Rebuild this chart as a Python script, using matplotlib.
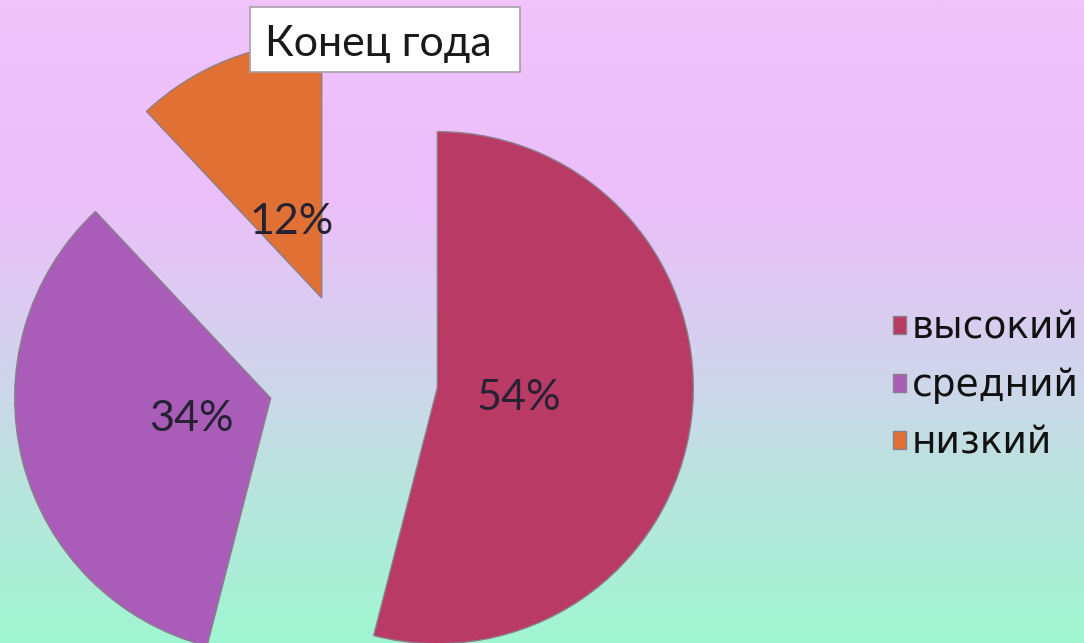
import numpy as np
import matplotlib
matplotlib.use("Agg")
import matplotlib.pyplot as plt
from matplotlib.colors import LinearSegmentedColormap
from matplotlib.patches import Rectangle

# Data
categories = ["высокий", "средний", "низкий"]
values = [54, 34, 12]
title = "Конец года"

colors = ["#b93a64", "#a95db9", "#e07033"]

W, H = 1084, 643
fig = plt.figure(figsize=(W / 100, H / 100), dpi=100)
ax = fig.add_axes([0, 0, 1, 1])

# gradient background
bg = LinearSegmentedColormap.from_list(
    "bg",
    [(0.0, (242/255, 196/255, 252/255)),
     (0.3, (236/255, 190/255, 250/255)),
     (0.55, (212/255, 210/255, 238/255)),
     (0.75, (186/255, 228/255, 222/255)),
     (1.0, (160/255, 246/255, 210/255))])
grad = np.linspace(0, 1, 256).reshape(-1, 1)
ax.imshow(grad, cmap=bg, extent=(0, W, 0, H), aspect="auto", origin="upper", zorder=0)

wedges, texts, autotexts = ax.pie(
    values, colors=colors, startangle=90, counterclock=False,
    center=(353, H - 377), radius=256, explode=[85, 85, 85],
    autopct="%1.0f%%", pctdistance=0.32,
    wedgeprops=dict(edgecolor="#8a7f8c", linewidth=1.0),
    textprops=dict(fontsize=31, color="#262233", family="Lato"))
for w in wedges:
    w.set_zorder(2)
for t in autotexts:
    t.set_zorder(3)

# title box
ax.add_patch(Rectangle((250, H - 72), 270, 65, facecolor="white",
                       edgecolor="#a8a0a8", linewidth=1.2, zorder=4))
ax.text(378, H - 56, title, ha="center", va="baseline", fontsize=31,
        family="Lato", color="#1a1a1a", zorder=5)

leg = ax.legend(wedges, categories, loc="upper left",
                bbox_to_anchor=(874 / W, 1 - 292 / H), bbox_transform=ax.transAxes,
                frameon=False, handlelength=0.35, handleheight=0.35,
                handletextpad=0.15, labelspacing=0.56, borderpad=0,
                prop=dict(family="DejaVu Sans", size=27))
for t in leg.get_texts():
    t.set_color("#111111")

ax.set_xlim(0, W)
ax.set_ylim(0, H)
ax.set_aspect("auto")
ax.axis("off")

fig.savefig("out.png", dpi=100)
